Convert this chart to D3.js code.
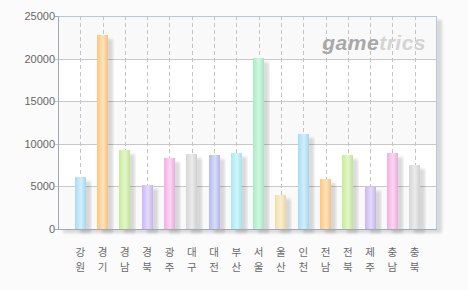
<!DOCTYPE html>
<html>
<head>
<meta charset="utf-8">
<script src="https://cdn.jsdelivr.net/npm/d3@7"></script>
<style>
  body { margin: 0; background: #fbfbfb; }
  svg { display: block; }
</style>
</head>
<body>
<div id="chart"></div>
<script>
const regions = ['강원', '경기', '경남', '경북', '광주', '대구', '대전', '부산', '서울', '울산', '인천', '전남', '전북', '제주', '충남', '충북']
const values = [6100, 22750, 9270, 5160, 8330, 8800, 8690, 8920, 20060, 3990, 11150, 5870, 8690, 4930, 8920, 7510]
const palette = ['#a6dcf6', '#fdc67c', '#c6ec96', '#cbb6f4', '#f4aee2', '#d6d6d6', '#b2baf0', '#a6eaf4', '#a6ecc4', '#f0dea2']
const yTicks = [0, 5000, 10000, 15000, 20000, 25000]

const margin = { top: 16, left: 58, right: 31, bottom: 61 }
const width = 468 - margin.left - margin.right
const height = 290 - margin.top - margin.bottom

const root = d3.select('#chart').append('svg')
  .attr('width', 468)
  .attr('height', 290)

const defs = root.append('defs')

const shadow = defs.append('filter').attr('id', 'shadow')
  .attr('x', '-50%').attr('y', '-50%').attr('width', '200%').attr('height', '200%')
shadow.append('feGaussianBlur').attr('in', 'SourceAlpha').attr('stdDeviation', 1.8).attr('result', 'b')
shadow.append('feOffset').attr('in', 'b').attr('dx', 5).attr('dy', 4).attr('result', 'o')
shadow.append('feComponentTransfer').attr('in', 'o').attr('result', 's')
  .append('feFuncA').attr('type', 'linear').attr('slope', 0.14)
const merge = shadow.append('feMerge')
merge.append('feMergeNode').attr('in', 's')
merge.append('feMergeNode').attr('in', 'SourceGraphic')

palette.forEach(function(c, i) {
  const g = defs.append('linearGradient').attr('id', 'grad' + i)
    .attr('x1', 0).attr('x2', 1).attr('y1', 0).attr('y2', 0)
  g.append('stop').attr('offset', '0%').attr('stop-color', c)
  g.append('stop').attr('offset', '55%').attr('stop-color', d3.interpolateRgb(c, '#fff')(0.5))
  g.append('stop').attr('offset', '100%').attr('stop-color', d3.interpolateRgb(c, '#888')(0.08))
})

const svg = root.append('g')
  .attr('transform', 'translate(' + margin.left + ',' + margin.top + ')')

const x = d3.scalePoint().domain(regions).range([0, width]).padding(1)
const y = d3.scaleLinear().domain([0, 25000]).range([height, 0])

// frame shadow
svg.append('rect')
  .attr('x', 0).attr('y', 0).attr('width', width).attr('height', height)
  .attr('fill', '#fff')
  .attr('filter', 'url(#shadow)')

// alternating bands
svg.selectAll('.band')
  .data(yTicks.slice(0, -1))
  .enter()
  .append('rect')
  .attr('class', 'band')
  .attr('x', 0)
  .attr('width', width)
  .attr('y', d => y(d + 5000))
  .attr('height', d => y(d) - y(d + 5000))
  .attr('fill', (d, i) => i % 2 === 0 ? '#f9f9f9' : '#ffffff')

// horizontal grid
svg.selectAll('.hgrid')
  .data(yTicks.slice(1, -1))
  .enter()
  .append('line')
  .attr('class', 'hgrid')
  .attr('x1', -3).attr('x2', width)
  .attr('y1', d => Math.round(y(d)) + 0.5)
  .attr('y2', d => Math.round(y(d)) + 0.5)
  .attr('stroke', '#c8c8c8')

// vertical dashed grid
svg.selectAll('.vgrid')
  .data(regions)
  .enter()
  .append('line')
  .attr('class', 'vgrid')
  .attr('x1', d => Math.round(x(d)) + 0.5)
  .attr('x2', d => Math.round(x(d)) + 0.5)
  .attr('y1', 0).attr('y2', height)
  .attr('stroke', '#c4c4c4')
  .attr('stroke-dasharray', '4,3')

// bars
const barW = 11
svg.selectAll('.bar')
  .data(values)
  .enter()
  .append('rect')
  .attr('class', 'bar')
  .attr('x', (d, i) => Math.round(x(regions[i]) - barW / 2))
  .attr('width', barW)
  .attr('y', d => Math.round(y(d)))
  .attr('height', d => height - Math.round(y(d)))
  .attr('fill', (d, i) => 'url(#grad' + (i % palette.length) + ')')
  .attr('filter', 'url(#shadow)')

// frame
svg.append('line').attr('x1', 0).attr('x2', width).attr('y1', 0.5).attr('y2', 0.5).attr('stroke', '#b2cadf')
svg.append('line').attr('x1', width - 0.5).attr('x2', width - 0.5).attr('y1', 0).attr('y2', height).attr('stroke', '#b2cadf')
svg.append('line').attr('x1', 0.5).attr('x2', 0.5).attr('y1', 0).attr('y2', height + 1).attr('stroke', '#9eaab6')
svg.append('line').attr('x1', -3).attr('x2', width).attr('y1', height + 0.5).attr('y2', height + 0.5).attr('stroke', '#9eaab6')
svg.append('line').attr('x1', -3).attr('x2', 0).attr('y1', 0.5).attr('y2', 0.5).attr('stroke', '#9eaab6')

// y labels
svg.selectAll('.ylab')
  .data(yTicks)
  .enter()
  .append('text')
  .attr('class', 'ylab')
  .attr('x', -3)
  .attr('y', d => y(d) + 4)
  .attr('text-anchor', 'end')
  .attr('font-family', 'Liberation Sans, Arial, sans-serif')
  .attr('font-size', 11)
  .attr('fill', '#666')
  .text(d => d)

// x labels, one syllable per line
;[0, 1].forEach(function(k) {
  svg.selectAll('.xlab' + k)
    .data(regions)
    .enter()
    .append('text')
    .attr('class', 'xlab' + k)
    .attr('x', d => x(d))
    .attr('y', height + 27 + k * 15)
    .attr('text-anchor', 'middle')
    .attr('font-family', 'Noto Sans CJK KR, sans-serif')
    .attr('font-size', 10.5)
    .attr('fill', '#6a6a6a')
    .text(d => d[k])
})

// watermark
const wm = svg.append('text')
  .attr('x', width - 11)
  .attr('y', 34)
  .attr('text-anchor', 'end')
  .attr('font-family', 'Liberation Sans, Arial, sans-serif')
  .attr('font-size', 21)
  .attr('font-weight', 'bold')
  .attr('font-style', 'italic')
  .attr('letter-spacing', 0.5)
wm.append('tspan').attr('fill', '#a8a8a8').text('game')
wm.append('tspan').attr('fill', '#d4d4d4').text('trics')
</script>
</body>
</html>
